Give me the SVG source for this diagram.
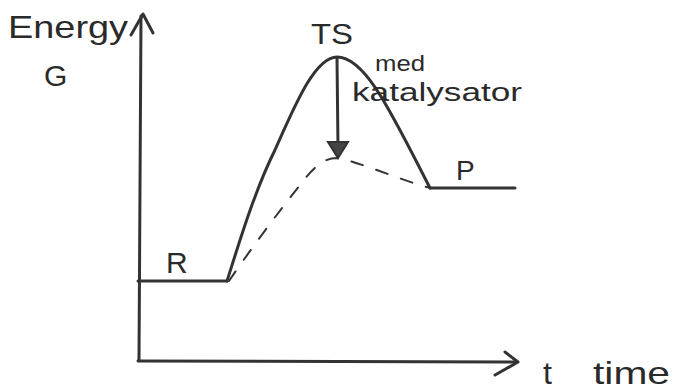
<svg xmlns="http://www.w3.org/2000/svg" width="681" height="391" viewBox="0 0 681 391">
<style>
.ln{fill:none;stroke:#333;stroke-width:3;stroke-linecap:round;stroke-linejoin:round}
.ds{fill:none;stroke:#333;stroke-width:2;stroke-dasharray:12 14;stroke-linecap:round}
.tx{font-family:"Liberation Sans","DejaVu Sans",sans-serif;fill:#2a2a2a}
</style>
<rect width="681" height="391" fill="#fff"/>
<g id="axes">
<path class="ln" d="M139,360 L141,16"/>
<path class="ln" d="M131,35 L143,14 L153,33"/>
<path class="ln" d="M138,361 L515,362"/>
<path class="ln" d="M505,352 L518,362 L495,375"/>
</g>
<g id="connectors">
<path class="ln" d="M227,281 C240,240 255,190 275,150 C295,105 315,57 337,57 C365,57 390,110 430,188"/>
<path class="ds" d="M229,281 C250,250 280,210 300,185 C315,165 325,158 337,158 C360,162 400,180 430,188"/>
<path class="ln" d="M337,58 L338,148"/>
<path d="M328,142 L348,142 L338,158 Z" fill="#444" stroke="#333" stroke-width="2"/>
</g>
<g id="R">
<path class="ln" d="M138,281 L227,281"/>
<text class="tx" x="166" y="273" font-size="30">R</text>
</g>
<g id="P">
<path class="ln" d="M430,188 L515,188"/>
<text class="tx" x="456" y="180" font-size="28">P</text>
</g>
<g id="TS">
<text class="tx" x="311" y="44" font-size="30" textLength="42" lengthAdjust="spacingAndGlyphs">TS</text>
</g>
<g id="labels">
<text class="tx" x="8" y="38" font-size="32" textLength="120" lengthAdjust="spacingAndGlyphs">Energy</text>
<text class="tx" x="44" y="86" font-size="30">G</text>
<text class="tx" x="375" y="71" font-size="22" textLength="50" lengthAdjust="spacingAndGlyphs">med</text>
<text class="tx" x="352" y="101" font-size="26" textLength="170" lengthAdjust="spacingAndGlyphs">katalysator</text>
<text class="tx" x="543" y="384" font-size="32">t</text>
<text class="tx" x="593" y="384" font-size="32" textLength="77" lengthAdjust="spacingAndGlyphs">time</text>
</g>
</svg>
